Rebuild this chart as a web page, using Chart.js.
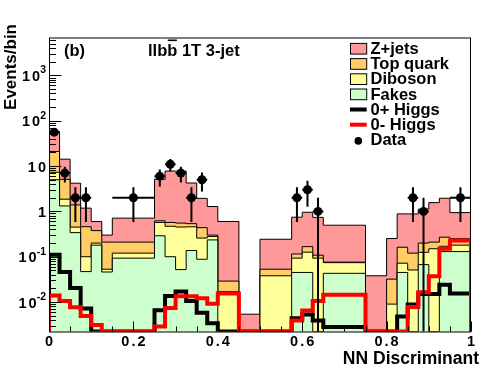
<!DOCTYPE html>
<html>
<head>
<meta charset="utf-8">
<script src="https://cdn.jsdelivr.net/npm/chart.js@4.4.0/dist/chart.umd.min.js"></script>
<style>
  html, body { margin: 0; padding: 0; background: #fff; }
  #wrap { width: 496px; height: 372px; }
</style>
</head>
<body>
<div id="wrap"><canvas id="nnChart" width="496" height="372"></canvas></div>
<script>
// variable-width bins of the NN discriminant
const binEdges = [0, 0.025, 0.05, 0.075, 0.1, 0.125, 0.15, 0.25, 0.275, 0.3, 0.325, 0.35, 0.375, 0.4,
  0.45, 0.5, 0.575, 0.6, 0.625, 0.65, 0.75, 0.8, 0.825, 0.85, 0.875, 0.9, 0.925, 0.95, 1.0];

// expected events per bin for each process (stacked in this order)
const fakes    = [5.0, 1.32, 0.34, 0.047, 0.18, 0.046, 0.093, 0.29, 0.10, 0.052, 0.137, 0.088, 0.235, 0, 0, 0,
  0.045, 0.045, 0, 0.043, 0, 0, 0.045, 0, 0.067, 0, 0.13, 0.13];
const diboson  = [2.3, 0.54, 0.11, 0.053, 0.02, 0.007, 0.027, 0.28, 0.37, 0.40, 0.32, 0.17, 0.045, 0.017, 0, 0.038,
  0.048, 0.081, 0.093, 0.031, 0, 0.009, 0.027, 0.051, 0.058, 0.15, 0.04, 0.05];
const topQuark = [13.7, 3.24, 0.94, 0.36, 0.177, 0.157, 0.09, 0.05, 0.10, 0.10, 0.08, 0.18, 0.02, 0.012, 0, 0.015,
  0.022, 0.041, 0.015, 0.002, 0, 0.023, 0.09, 0.069, 0.075, 0.06, 0.10, 0.07];
const zJets    = [37, 9.1, 2.8, 0.72, 0.22, 0.09, 0.50, 4.5, 7.2, 7.2, 3.7, 1.5, 0.98, 0.57, 0.0054, 0.19,
  0.63, 0.79, 0.63, 0.42, 0.038, 0.22, 0.72, 0.76, 0.92, 1.35, 1.68, 0.69];

// signal hypotheses (not stacked)
const higgsPlus  = [0.11, 0.046, 0.0205, 0.0072, 0, 0, 0, 0.0066, 0.0136, 0.0172, 0.0105, 0.0058, 0.0034, 0, 0, 0,
  0.0044, 0.0053, 0.0039, 0.0028, 0, 0, 0.0048, 0.0088, 0.015, 0.015, 0.024, 0.0155];
const higgsMinus = [0.014, 0.0105, 0.0077, 0.0049, 0.0031, 0, 0, 0.0029, 0.0074, 0.0135, 0.0135, 0.0122, 0.0092, 0.0155, 0, 0,
  0.0039, 0.0065, 0.0105, 0.0145, 0, 0, 0, 0.0078, 0.0165, 0.037, 0.15, 0.229];

// observed data: bin index and count
const dataBins   = [0, 1, 2, 3, 6, 7, 8, 9, 10, 11, 16, 17, 18, 23, 24, 27];
const dataCounts = [56, 7, 2, 2, 2, 6, 11, 7, 2, 5, 2, 3, 1, 2, 1, 2];

// axis ticks
const xTicks = [0, 0.2, 0.4, 0.6, 0.8, 1];
const xTickLabels = ['0', '0.2', '0.4', '0.6', '0.8', '1'];
const yTicks = [0.01, 0.1, 1, 10, 100, 1000];
const yTickLabels = [['10', '-2'], ['10', '-1'], ['1', ''], ['10', ''], ['10', '2'], ['10', '3']];

const Y_MIN = 0.00224;
const Y_MAX = 6870;

const FONT = '"Liberation Sans", Arial, Helvetica, sans-serif';

// histogram -> stepped line points (zero bins sit on the axis floor)
function histPoints(vals) {
    const pts = [{x: binEdges[0], y: Y_MIN}];
    vals.forEach((v, i) => pts.push({x: binEdges[i], y: v > 0 ? v : Y_MIN}));
    const last = binEdges[binEdges.length - 1];
    pts.push({x: last, y: pts[pts.length - 1].y});
    pts.push({x: last, y: Y_MIN});
    return pts;
}

// THStack style cumulative sums
const stackFakes = fakes.slice();
const stackDiboson = stackFakes.map((v, i) => v + diboson[i]);
const stackTop = stackDiboson.map((v, i) => v + topQuark[i]);
const stackZ = stackTop.map((v, i) => v + zJets[i]);

const dataPoints = dataBins.map((b, i) => ({x: (binEdges[b] + binEdges[b + 1]) / 2, y: dataCounts[i]}));

function stackSet(label, vals, color) {
    return {
        label: label, data: histPoints(vals), stepped: true, fill: 'start',
        backgroundColor: color, borderColor: '#000', borderWidth: 1,
        pointRadius: 0, borderJoinStyle: 'miter'
    };
}

function lineSet(label, vals, color) {
    return {
        label: label, data: histPoints(vals), stepped: true, fill: false,
        borderColor: color, borderWidth: 4, pointRadius: 0,
        borderJoinStyle: 'miter', borderCapStyle: 'butt'
    };
}

const legendItems = [
    {text: 'Z+jets', kind: 'box', color: '#ff9999'},
    {text: 'Top quark', kind: 'box', color: '#ffcc66'},
    {text: 'Diboson', kind: 'box', color: '#ffff99'},
    {text: 'Fakes', kind: 'box', color: '#ccffcc'},
    {text: '0+ Higgs', kind: 'line', color: '#000'},
    {text: '0- Higgs', kind: 'line', color: '#ff0000'},
    {text: 'Data', kind: 'dot', color: '#000'}
];

const rootStyle = {
    id: 'rootStyle',
    afterDatasetsDraw(chart) {
        const ctx = chart.ctx;
        const a = chart.chartArea;
        const xs = chart.scales.x;
        const ys = chart.scales.y;
        ctx.save();

        // data error bars
        ctx.strokeStyle = '#000';
        ctx.lineWidth = 2;
        dataBins.forEach((b, i) => {
            const n = dataCounts[i];
            const e = Math.sqrt(n);
            const px = xs.getPixelForValue((binEdges[b] + binEdges[b + 1]) / 2);
            const py = ys.getPixelForValue(n);
            const hi = ys.getPixelForValue(n + e);
            const lo = n - e > Y_MIN ? ys.getPixelForValue(n - e) : a.bottom;
            ctx.beginPath();
            ctx.moveTo(px, hi);
            ctx.lineTo(px, lo);
            ctx.moveTo(xs.getPixelForValue(binEdges[b]), py);
            ctx.lineTo(xs.getPixelForValue(binEdges[b + 1]), py);
            ctx.stroke();
        });

        // frame
        ctx.lineWidth = 1;
        ctx.strokeRect(a.left + 0.5, a.top + 0.5, a.right - a.left - 1, a.bottom - a.top);

        // y ticks (log, inside the frame)
        ctx.beginPath();
        for (let d = -3; d <= 3; d++) {
            for (let m = 1; m <= 9; m++) {
                const v = m * Math.pow(10, d);
                if (v < Y_MIN || v > Y_MAX) continue;
                const py = Math.round(ys.getPixelForValue(v)) + 0.5;
                ctx.moveTo(a.left, py);
                ctx.lineTo(a.left + (m === 1 ? 12.5 : 7), py);
            }
        }
        // x ticks
        for (let k = 0; k <= 20; k++) {
            const px = Math.round(xs.getPixelForValue(k * 0.05)) + 0.5;
            ctx.moveTo(px, a.bottom);
            ctx.lineTo(px, a.bottom - (k % 4 === 0 ? 10 : 5));
        }
        ctx.stroke();

        ctx.fillStyle = '#000';
        ctx.textBaseline = 'alphabetic';

        // x tick labels
        ctx.font = 'bold 14.5px ' + FONT;
        ctx.letterSpacing = '2px';
        ctx.textAlign = 'center';
        xTicks.forEach((v, i) => ctx.fillText(xTickLabels[i], xs.getPixelForValue(v) + 1, 346));

        // y tick labels with superscript exponents
        ctx.textAlign = 'left';
        yTicks.forEach((v, i) => {
            const base = yTickLabels[i][0];
            const exp = yTickLabels[i][1];
            const py = ys.getPixelForValue(v);
            ctx.font = 'bold 10.5px ' + FONT;
            ctx.letterSpacing = '0px';
            const we = exp ? ctx.measureText(exp).width : 0;
            ctx.font = 'bold 14.5px ' + FONT;
            ctx.letterSpacing = '2px';
            const wb = ctx.measureText(base).width - 2;
            const right = a.left - 3;
            ctx.fillText(base, right - we - wb, py + 5.5);
            if (exp) {
                ctx.font = 'bold 10.5px ' + FONT;
                ctx.letterSpacing = '0px';
                ctx.fillText(exp, right - we, py - 2);
            }
        });
        ctx.letterSpacing = '0px';

        // axis titles
        ctx.font = 'bold 17.5px ' + FONT;
        ctx.textAlign = 'right';
        ctx.fillText('NN Discriminant', 479, 364);
        ctx.save();
        ctx.translate(15.5, 24);
        ctx.rotate(-Math.PI / 2);
        ctx.font = 'bold 17px ' + FONT;
        ctx.fillText('Events/bin', 0, 0);
        ctx.restore();

        // panel labels
        ctx.font = 'bold 16.5px ' + FONT;
        ctx.textAlign = 'left';
        ctx.fillText('(b)', 64, 56);
        const x0 = 148;
        ctx.fillText('llbb 1T 3-jet', x0, 56);
        const wPre = ctx.measureText('llb').width;
        const wB = ctx.measureText('b').width;
        ctx.fillRect(x0 + wPre + 0.5, 39.5, wB - 1, 1.6);

        // legend
        legendItems.forEach((it, k) => {
            const yc = 48.7 + 15.2 * k;
            if (it.kind === 'box') {
                ctx.fillStyle = it.color;
                ctx.fillRect(350, yc - 5.3, 16.7, 10.7);
                ctx.strokeStyle = '#000';
                ctx.lineWidth = 1;
                ctx.strokeRect(350.5, yc - 5.3, 16.2, 10.7);
            } else if (it.kind === 'line') {
                ctx.fillStyle = it.color;
                ctx.fillRect(350, yc - 2, 16.7, 4);
            } else {
                ctx.fillStyle = it.color;
                ctx.beginPath();
                ctx.arc(358.3, yc + 1, 3.8, 0, Math.PI * 2);
                ctx.fill();
            }
            ctx.fillStyle = '#000';
            ctx.font = 'bold 16.5px ' + FONT;
            ctx.fillText(it.text, 370.5, yc + 5.2);
        });

        ctx.restore();
    }
};

document.addEventListener('DOMContentLoaded', function() {
    const nnCtx = document.getElementById('nnChart').getContext('2d');
    new Chart(nnCtx, {
        type: 'line',
        data: {
            datasets: [
                {
                    label: 'Data', data: dataPoints, showLine: false,
                    pointRadius: 4.5, pointBackgroundColor: '#000', pointBorderColor: '#000', pointBorderWidth: 0
                },
                lineSet('0- Higgs', higgsMinus, '#ff0000'),
                lineSet('0+ Higgs', higgsPlus, '#000000'),
                stackSet('Fakes', stackFakes, '#ccffcc'),
                stackSet('Diboson', stackDiboson, '#ffff99'),
                stackSet('Top quark', stackTop, '#ffcc66'),
                stackSet('Z+jets', stackZ, '#ff9999')
            ]
        },
        options: {
            responsive: false,
            animation: false,
            layout: { padding: { left: 49, right: 25, top: 37.5, bottom: 40.5 } },
            scales: {
                x: { type: 'linear', min: 0, max: 1, bounds: 'data', display: false },
                y: { type: 'logarithmic', min: Y_MIN, max: Y_MAX, bounds: 'data', display: false }
            },
            elements: { line: { tension: 0 } },
            plugins: { legend: { display: false }, tooltip: { enabled: false } }
        },
        plugins: [rootStyle]
    });
});
</script>
</body>
</html>
